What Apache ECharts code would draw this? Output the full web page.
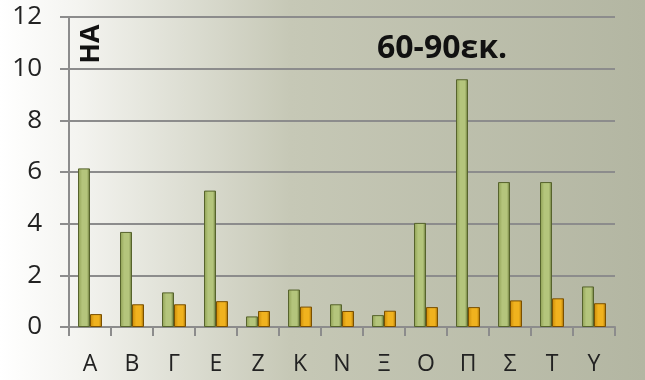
<!DOCTYPE html>
<html>
<head>
<meta charset="utf-8">
<script src="https://cdn.jsdelivr.net/npm/echarts@6/dist/echarts.min.js"></script>
<style>
  html, body { margin: 0; padding: 0; }
  #chart { width: 645px; height: 380px; }
</style>
</head>
<body>
<div id="chart"></div>
<script>
// categories and values
var categories = ['Α', 'Β', 'Γ', 'Ε', 'Ζ', 'Κ', 'Ν', 'Ξ', 'Ο', 'Π', 'Σ', 'Τ', 'Υ'];
var greenValues = [6.14, 3.68, 1.34, 5.28, 0.41, 1.45, 0.88, 0.46, 4.03, 9.59, 5.61, 5.61, 1.57];
var orangeValues = [0.50, 0.88, 0.88, 1.00, 0.62, 0.79, 0.62, 0.63, 0.77, 0.77, 1.03, 1.11, 0.92];
var yTicks = { min: 0, max: 12, interval: 2 };

var gray = '#8c8c8c';
var font = '"Open Sans", "DejaVu Sans", sans-serif';

function barFill(edge, mid, dark) {
    return new echarts.graphic.LinearGradient(0, 0, 1, 0, [
        { offset: 0, color: edge },
        { offset: 0.35, color: mid },
        { offset: 0.75, color: mid },
        { offset: 1, color: dark }
    ]);
}

var myChart = echarts.init(document.getElementById('chart'));
myChart.setOption({
    animation: false,
    backgroundColor: new echarts.graphic.LinearGradient(0, 0, 1, 0, [
        { offset: 0, color: '#ffffff' },
        { offset: 0.12, color: '#f4f4f0' },
        { offset: 0.45, color: '#c6c8b6' },
        { offset: 1, color: '#b3b6a2' }
    ]),
    grid: { left: 69, right: 30, top: 17, bottom: 53 },
    graphic: [
        {
            type: 'text', x: 91, y: 44, rotation: Math.PI / 2,
            style: { x: 0, y: 0, text: 'ΗΑ', font: 'bold 27px ' + font, fill: '#111',
                     align: 'center', verticalAlign: 'middle' }
        },
        {
            type: 'text', x: 377, y: 49,
            style: { x: 0, y: 0, text: '60-90εκ.', font: 'bold 32px ' + font, fill: '#111',
                     align: 'left', verticalAlign: 'middle' }
        }
    ],
    xAxis: {
        type: 'category',
        data: categories,
        axisLine: { lineStyle: { color: gray, width: 2 } },
        axisTick: { show: true, length: 9, lineStyle: { color: gray, width: 2 } },
        axisLabel: { color: '#222', fontSize: 23, fontFamily: font, margin: 26 }
    },
    yAxis: {
        type: 'value',
        min: yTicks.min, max: yTicks.max, interval: yTicks.interval,
        axisLine: { show: true, lineStyle: { color: gray, width: 2 } },
        axisTick: { show: true, length: 9, lineStyle: { color: gray, width: 2 } },
        splitLine: { lineStyle: { color: gray, width: 2 } },
        axisLabel: { color: '#222', fontSize: 26, fontFamily: font, margin: 27 }
    },
    series: [
        {
            type: 'bar', data: greenValues, barWidth: 12, barGap: '0%',
            itemStyle: {
                color: barFill('#8e9f52', '#b4c57c', '#5f6e30'),
                borderColor: '#56632c', borderWidth: 1
            }
        },
        {
            type: 'bar', data: orangeValues, barWidth: 12,
            itemStyle: {
                color: barFill('#c98a08', '#f0b21e', '#9a6500'),
                borderColor: '#7a5000', borderWidth: 1
            }
        }
    ]
});
</script>
</body>
</html>
